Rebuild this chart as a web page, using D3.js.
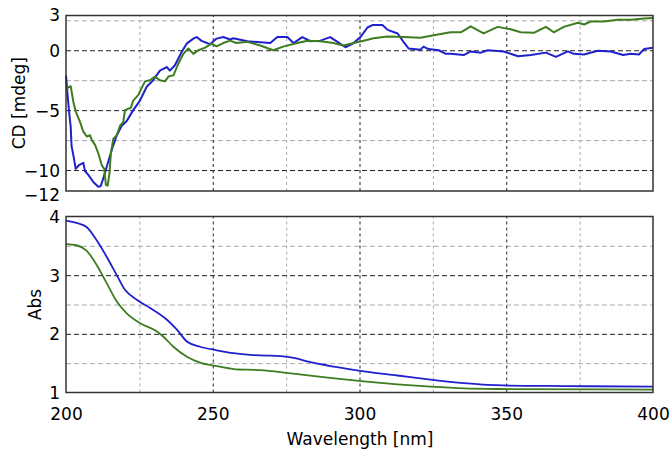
<!DOCTYPE html>
<html>
<head>
<meta charset="utf-8">
<script src="https://cdn.jsdelivr.net/npm/d3@7"></script>
<style>
    body { margin: 0; background: #fff; }
    text { font-family: 'DejaVu Sans', sans-serif; fill: #000; }
    .frame { fill: none; stroke: #333; stroke-width: 1.5px; }
    .grid-major line { stroke: #222; stroke-dasharray: 5 3; stroke-width: 1px; }
    .grid-minor line { stroke: #aaa; stroke-dasharray: 5 3; stroke-width: 1px; }
    .grid-v line { stroke-dasharray: 3 3; }
    .grid-major .domain, .grid-minor .domain { display: none; }
    .axis .domain { display: none; }
    .axis text { font-size: 17px; }
</style>
</head>
<body>
<div id="chart"></div>
<script>

// CD spectrum, sample A (blue) and sample B (green): [nm, mdeg]
const cdBlue = [
    [200, -2.1], [200.5, -3.6], [201, -5], [201.6, -6.4], [201.9, -8.0], [202.5, -8.75], [203.3, -9.9],
    [204.4, -9.6], [205.9, -9.4], [206.5, -10.1], [207.6, -10.4], [209.3, -11], [211, -11.4], [211.8, -11.35],
    [212.7, -10.7], [213.9, -9.7], [215.6, -8.3], [217.3, -7.1], [219, -6.3], [220.7, -5.9], [222.9, -5.0],
    [225.2, -4.2], [227.5, -3.05], [229.7, -2.5], [232, -1.7], [234.3, -1.4], [235.4, -1.7], [237.1, -1.25],
    [239.4, -0.15], [241.1, 0.55], [243.4, 0.97], [244.5, 1.1], [246.2, 0.78], [249.1, 0.5], [251.3, 0.97],
    [253.6, 1.1], [255.9, 0.9], [257, 1.0], [261.8, 0.75], [269.6, 0.6], [272, 1.1], [275.4, 1.1], [277.5, 0.6],
    [280.5, 1.1], [283.3, 0.75], [286.7, 0.8], [290, 1.1], [292.5, 0.7], [295.2, 0.25], [298, 0.6], [300.3, 1.1],
    [302.7, 1.9], [304.4, 2.1], [307.8, 2.1], [309.6, 1.7], [313, 1.4], [315, 0.7], [316.7, 0.15], [320.8, 0.05],
    [321.8, 0.3], [323.5, 0.1], [327, 0], [329.4, -0.3], [331, -0.3], [335.5, -0.4], [337.9, -0.1], [341.3, -0.2],
    [343.7, 0], [349.1, -0.1], [354, -0.5], [358.4, -0.4], [363.5, -0.2], [366.9, -0.55], [371, -0.1], [373, -0.3],
    [376.5, -0.35], [381.2, -0.05], [385.7, -0.1], [389.8, -0.4], [392.5, -0.3], [395.2, -0.35], [397, 0.1], [400, 0.2]
];

const cdGreen = [
    [200, -3.3], [200.8, -3.1], [201.6, -3.0], [202.5, -4.3], [203.3, -5.1], [204.8, -6.0], [205.9, -6.8],
    [207.1, -7.2], [208.2, -7.1], [208.8, -7.5], [209.9, -7.9], [211, -8.6], [212.2, -9.6], [213, -9.9],
    [213.6, -11.25], [214.2, -11.3], [214.8, -10.3], [215.3, -8.6], [216.1, -7.4], [217.3, -7.1], [218.4, -6.3],
    [219.5, -6.0], [220.1, -5.0], [222.1, -4.8], [222.9, -4.2], [224.6, -3.75], [226.9, -2.6], [228.6, -2.5],
    [230.3, -2.2], [232, -2.5], [233.7, -2.6], [234.9, -2.2], [236.6, -2.1], [238.3, -1.1], [240, -0.3],
    [241.7, 0.15], [243.4, -0.3], [245.1, 0], [247.4, 0.22], [249.6, 0.55], [251.3, 0.33], [253.6, 0.6],
    [255.9, 0.8], [258, 0.6], [261.8, 0.7], [266.2, 0.4], [270.6, 0], [274, 0.3], [278.8, 0.6], [282.3, 0.8],
    [286.7, 0.75], [291.1, 0.6], [294.5, 0.4], [298, 0.6], [301.4, 0.8], [304.8, 1.0], [309.6, 1.15], [315, 1.1],
    [320.8, 1.05], [325.3, 1.25], [331, 1.5], [334.5, 1.5], [337.9, 2.0], [342.3, 1.4], [347.1, 1.95],
    [351.5, 1.75], [354.9, 1.5], [359.4, 1.45], [363.5, 1.95], [366.2, 1.5], [369.6, 1.95], [374.4, 2.3],
    [376.5, 2.15], [378.8, 2.4], [383.3, 2.4], [388, 2.55], [392.5, 2.55], [397, 2.65], [400, 2.7]
];

// absorbance spectra: [nm, Abs]
const absBlue = [
    [200, 3.93], [203.6, 3.89], [207, 3.82], [210.5, 3.59], [213.9, 3.31], [217.3, 3.0], [220.1, 2.75],
    [224.1, 2.58], [228.7, 2.44], [234.4, 2.24], [237.8, 2.07], [241.2, 1.87], [245.7, 1.78], [251.4, 1.72],
    [257.1, 1.67], [262.8, 1.64], [268.5, 1.63], [274, 1.615], [278, 1.585], [283, 1.52], [291.2, 1.44],
    [301.5, 1.36], [312.9, 1.29], [324.2, 1.22], [335.6, 1.16], [343.6, 1.13], [349.2, 1.12], [369.7, 1.11],
    [400, 1.10]
];

const absGreen = [
    [200, 3.53], [203.6, 3.51], [207, 3.42], [210.5, 3.17], [213.9, 2.86], [217.3, 2.55], [220.7, 2.35],
    [225.3, 2.18], [231, 2.04], [233.2, 1.95], [236.6, 1.78], [241.2, 1.61], [245.7, 1.51], [251.4, 1.45],
    [257.1, 1.40], [266.2, 1.38], [274.2, 1.34], [281, 1.30], [290, 1.25], [301.5, 1.19], [312.9, 1.14],
    [324.2, 1.10], [335.6, 1.07], [347, 1.06], [400, 1.05]
];

// ticks / grid positions
const xTicks = [200, 250, 300, 350, 400];
const xGridMajor = [250, 300, 350];
const xGridMinor = [225, 275, 325, 375];
const cdTicks = [3, 0, -5, -10, -12];
const cdGridMajor = [0, -5, -10];
const cdGridMinor = [2.5, -2.5, -7.5];
const absTicks = [1, 2, 3, 4];
const absGridMajor = [2, 3];
const absGridMinor = [1.5, 2.5, 3.5];

const blueColor = '#2020cc';
const greenColor = '#3d7d1f';


class SpectrumPanel {

    constructor(svg, cfg) {
        this.svg = svg;
        this.cfg = cfg;
        this.initVis();
    }

    initVis() {
        let vis = this;
        let cfg = vis.cfg;

        vis.g = vis.svg.append('g');

        vis.xScale = d3.scaleLinear().domain([200, 400]).range([cfg.left, cfg.right]);
        vis.yScale = d3.scaleLinear().domain(cfg.yDomain).range([cfg.bottom, cfg.top]);

        let w = cfg.right - cfg.left;
        let h = cfg.bottom - cfg.top;

        // grid lines (minor grey first, then black ones on top)
        vis.g.append('g')
            .attr('class', 'grid-minor grid-v')
            .attr('transform', `translate(0, ${cfg.bottom})`)
            .call(d3.axisBottom(vis.xScale).tickValues(xGridMinor).tickSize(-h).tickFormat(''));
        vis.g.append('g')
            .attr('class', 'grid-minor')
            .attr('transform', `translate(${cfg.left}, 0)`)
            .call(d3.axisLeft(vis.yScale).tickValues(cfg.gridMinor).tickSize(-w).tickFormat(''));
        vis.g.append('g')
            .attr('class', 'grid-major grid-v')
            .attr('transform', `translate(0, ${cfg.bottom})`)
            .call(d3.axisBottom(vis.xScale).tickValues(xGridMajor).tickSize(-h).tickFormat(''));
        vis.g.append('g')
            .attr('class', 'grid-major')
            .attr('transform', `translate(${cfg.left}, 0)`)
            .call(d3.axisLeft(vis.yScale).tickValues(cfg.gridMajor).tickSize(-w).tickFormat(''));

        // y axis labels
        vis.g.append('g')
            .attr('class', 'axis')
            .attr('transform', `translate(${cfg.left}, 0)`)
            .call(d3.axisLeft(vis.yScale).tickValues(cfg.yTicks).tickSize(0).tickPadding(6).tickFormat(d3.format('d')))
            .selectAll('text')
            .attr('dy', '0.36em');

        if (cfg.showX) {
            vis.g.append('g')
                .attr('class', 'axis')
                .attr('transform', `translate(0, ${cfg.bottom})`)
                .call(d3.axisBottom(vis.xScale).tickValues(xTicks).tickSize(0).tickPadding(15));
        }

        // lines
        let line = d3.line()
            .x(d => vis.xScale(d[0]))
            .y(d => vis.yScale(d[1]))
            .curve(cfg.curve);

        cfg.series.forEach(s => {
            vis.g.append('path')
                .datum(s.data)
                .attr('fill', 'none')
                .attr('stroke', s.color)
                .attr('stroke-width', cfg.lineWidth)
                .attr('stroke-linejoin', 'round')
                .attr('d', line);
        });

        // box around plot
        vis.g.append('rect')
            .attr('class', 'frame')
            .attr('x', cfg.left)
            .attr('y', cfg.top)
            .attr('width', w)
            .attr('height', h);

        // y title
        vis.g.append('text')
            .attr('transform', `translate(${cfg.titleX}, ${(cfg.top + cfg.bottom) / 2}) rotate(-90)`)
            .attr('text-anchor', 'middle')
            .attr('dy', '0.36em')
            .style('font-size', '17px')
            .text(cfg.title);
    }
}


let svg = d3.select('#chart').append('svg')
    .attr('width', 670)
    .attr('height', 453);

new SpectrumPanel(svg, {
    left: 66, right: 653, top: 15.5, bottom: 191,
    yDomain: [-11.75, 2.9],
    yTicks: cdTicks, gridMajor: cdGridMajor, gridMinor: cdGridMinor,
    showX: false,
    curve: d3.curveLinear,
    lineWidth: 2,
    title: 'CD [mdeg]', titleX: 19,
    series: [{data: cdBlue, color: blueColor}, {data: cdGreen, color: greenColor}]
});

new SpectrumPanel(svg, {
    left: 66, right: 653, top: 216.5, bottom: 392.5,
    yDomain: [1, 4],
    yTicks: absTicks, gridMajor: absGridMajor, gridMinor: absGridMinor,
    showX: true,
    curve: d3.curveMonotoneX,
    lineWidth: 1.8,
    title: 'Abs', titleX: 35,
    series: [{data: absBlue, color: blueColor}, {data: absGreen, color: greenColor}]
});

// x title
svg.append('text')
    .attr('x', 360)
    .attr('y', 445)
    .attr('text-anchor', 'middle')
    .style('font-size', '17px')
    .text('Wavelength [nm]');

</script>
</body>
</html>
